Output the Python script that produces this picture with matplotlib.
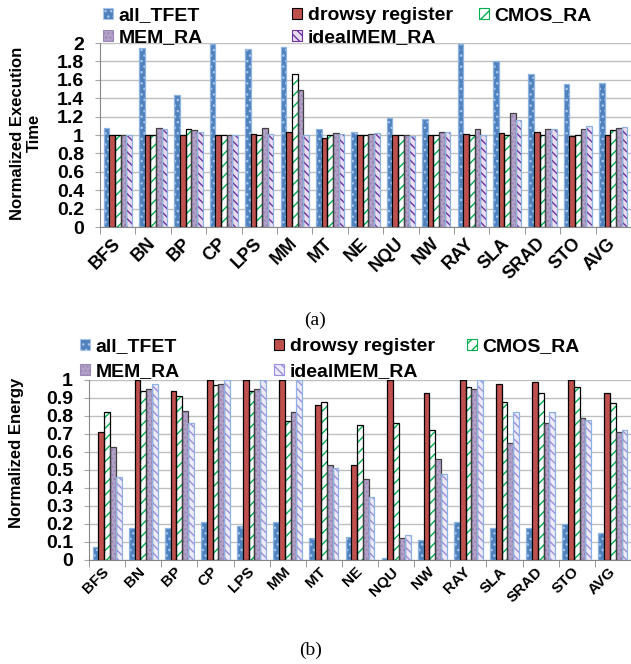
import numpy as np
import matplotlib
matplotlib.use("Agg")
import matplotlib.pyplot as plt
from matplotlib.patches import Patch

plt.rcParams['font.family'] = ['Liberation Sans', 'DejaVu Sans']
plt.rcParams['hatch.linewidth'] = 1.0

benchmarks = ['BFS', 'BN', 'BP', 'CP', 'LPS', 'MM', 'MT', 'NE', 'NQU', 'NW',
              'RAY', 'SLA', 'SRAD', 'STO', 'AVG']
series_names = ['all_TFET', 'drowsy register', 'CMOS_RA', 'MEM_RA', 'idealMEM_RA']

# (a) normalized execution time
time_all_tfet = [1.08, 1.95, 1.44, 1.99, 1.93, 1.96, 1.06, 1.03, 1.18, 1.17, 1.99, 1.80, 1.66, 1.55, 1.56]
time_drowsy = [1.00, 1.00, 1.00, 1.00, 1.01, 1.03, 0.97, 1.00, 1.00, 1.00, 1.01, 1.02, 1.03, 0.99, 1.00]
time_cmos_ra = [1.00, 1.00, 1.06, 1.00, 1.00, 1.66, 1.00, 1.00, 1.00, 1.00, 1.00, 1.00, 1.00, 1.00, 1.05]
time_mem_ra = [1.00, 1.08, 1.05, 1.00, 1.08, 1.49, 1.02, 1.01, 1.00, 1.03, 1.06, 1.24, 1.06, 1.07, 1.08]
time_ideal = [1.00, 1.06, 1.03, 1.00, 1.01, 1.00, 1.01, 1.02, 0.99, 1.03, 1.00, 1.16, 1.06, 1.10, 1.09]

# (b) normalized energy
energy_all_tfet = [0.07, 0.18, 0.18, 0.21, 0.19, 0.21, 0.12, 0.13, 0.01, 0.11, 0.21, 0.18, 0.18, 0.20, 0.15]
energy_drowsy = [0.71, 1.00, 0.94, 1.00, 1.00, 1.00, 0.86, 0.53, 1.00, 0.93, 1.00, 0.98, 0.99, 1.00, 0.93]
energy_cmos_ra = [0.82, 0.94, 0.91, 0.97, 0.94, 0.77, 0.88, 0.75, 0.76, 0.72, 0.96, 0.88, 0.93, 0.96, 0.87]
energy_mem_ra = [0.63, 0.95, 0.83, 0.98, 0.95, 0.82, 0.53, 0.45, 0.12, 0.56, 0.95, 0.65, 0.76, 0.79, 0.71]
energy_ideal = [0.46, 0.98, 0.76, 1.00, 1.00, 1.00, 0.51, 0.35, 0.14, 0.48, 1.00, 0.82, 0.82, 0.78, 0.72]

# face, hatch, hatch colour, edge colour
styles_a = [
    ('#4F81BD', '...', '#A9C4E8', '#8DB3E2'),
    ('#C0504D', None, None, '#000000'),
    ('#FFFFFF', '///', '#00B050', '#000000'),
    ('#B3A2C7', '....', '#9B86B8', '#404040'),
    ('#E6DDF0', '\\\\\\\\', '#7030A0', '#8DB3E2'),
]
styles_b = [
    ('#4F81BD', '...', '#A9C4E8', '#8DB3E2'),
    ('#C0504D', None, None, '#000000'),
    ('#FFFFFF', '///', '#00B050', '#000000'),
    ('#B3A2C7', '....', '#9B86B8', '#404040'),
    ('#EEEAF8', '\\\\\\\\', '#9C8FE0', '#8DB3E2'),
]


def draw_bars(ax, values_list, styles):
    x = np.arange(len(benchmarks))
    w = 0.16
    for i, (vals, st) in enumerate(zip(values_list, styles)):
        face, hatch, hcol, edge = st
        pos = x + (i - 2) * w
        ax.bar(pos, vals, w, color=face, linewidth=0, zorder=2)
        if hatch:
            ax.bar(pos, vals, w, fill=False, hatch=hatch, edgecolor=hcol, linewidth=0, zorder=3)
        ax.bar(pos, vals, w, fill=False, edgecolor=edge, linewidth=0.9, zorder=4)


def style_axes(ax, ymax, step, xright, xfont, xpad):
    ax.set_ylim(0, ymax)
    ax.set_xlim(-0.5, xright)
    yt = np.round(np.arange(0, ymax + step / 2, step), 2)
    ax.set_yticks(yt)
    ax.set_yticklabels(['%g' % v for v in yt], fontsize=14, fontweight='bold')
    ax.yaxis.grid(True, color='#BFBFBF', linewidth=1, zorder=0)
    ax.set_axisbelow(True)
    for s in ['top', 'right']:
        ax.spines[s].set_visible(False)
    for s in ['left', 'bottom']:
        ax.spines[s].set_color('#868686')
    ax.tick_params(axis='y', length=3.6, color='#A6A6A6', pad=8)
    ax.set_xticks(np.arange(len(benchmarks)))
    ax.set_xticklabels(benchmarks, rotation=45, ha='right', va='center',
                       rotation_mode='anchor', fontsize=xfont, fontweight='bold')
    ax.tick_params(axis='x', which='major', length=0, pad=xpad)
    ax.set_xticks(np.arange(-0.5, len(benchmarks), 1), minor=True)
    ax.tick_params(axis='x', which='minor', length=5, color='#868686')


def legend_handles(styles):
    hs = []
    for face, hatch, hcol, edge in styles:
        hs.append(Patch(facecolor=face, hatch=hatch, edgecolor=hcol if hatch else edge,
                        linewidth=0.8))
    return hs


def place_legend(fig, styles, xs, ys, fontsize):
    hs = legend_handles(styles)
    for h, name, x, y in zip(hs, series_names, xs, ys):
        fig.legend(handles=[h], labels=[name], loc='center left',
                   bbox_to_anchor=(x / 631, 1 - y / 664), frameon=False,
                   borderpad=0, borderaxespad=0, handlelength=0.5, handleheight=0.5,
                   handletextpad=0.3, prop={'size': fontsize, 'weight': 'bold'})


fig = plt.figure(figsize=(6.31, 6.64), dpi=100)

ax1 = fig.add_axes([100 / 631, 437 / 664, 531 / 631, 184 / 664])
draw_bars(ax1, [time_all_tfet, time_drowsy, time_cmos_ra, time_mem_ra, time_ideal], styles_a)
style_axes(ax1, 2.0, 0.2, -0.5 + 531 / 36, 13, 10)
fig.text(26 / 631, 1 - 133 / 664, 'Normalized Execution\nTime', rotation=90, ha='center',
         va='center', fontsize=12, fontweight='bold', linespacing=1.1)
place_legend(fig, styles_a, [103, 292, 479, 103, 292], [16, 16, 16, 38, 38], 14)
fig.text(315 / 631, 1 - 320 / 664, '(a)', ha='center', va='center', fontsize=14,
         family='Liberation Serif')

ax2 = fig.add_axes([89 / 631, 104 / 664, 542 / 631, 180 / 664])
draw_bars(ax2, [energy_all_tfet, energy_drowsy, energy_cmos_ra, energy_mem_ra, energy_ideal], styles_b)
style_axes(ax2, 1.0, 0.1, -0.5 + 542 / 36.2, 11, 7)
fig.text(17 / 631, 1 - 453 / 664, 'Normalized Energy', rotation=90, ha='center',
         va='center', fontsize=12, fontweight='bold')
place_legend(fig, styles_b, [80, 274, 467, 80, 274], [347, 347, 347, 372, 372], 14)
fig.text(311 / 631, 1 - 650 / 664, '(b)', ha='center', va='center', fontsize=14,
         family='Liberation Serif')

fig.savefig('out.png', dpi=100)
